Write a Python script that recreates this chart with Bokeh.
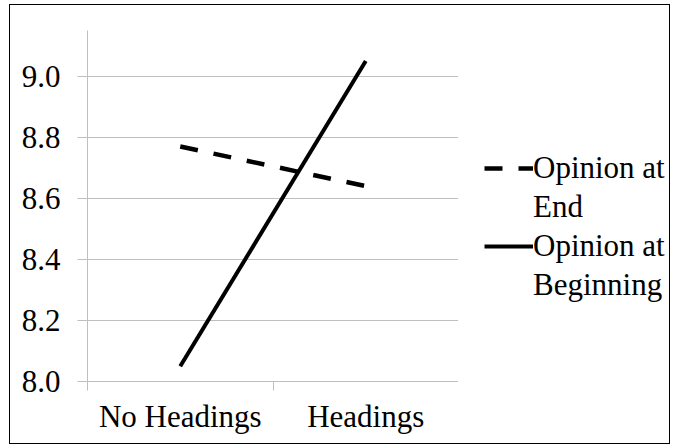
from bokeh.plotting import figure
from bokeh.layouts import row
from bokeh.models import Legend, LegendItem, FixedTicker, NumeralTickFormatter, Range1d
from bokeh.embed import file_html
from bokeh.resources import INLINE

categories = ["No Headings", "Headings"]
opinion_end = [8.77, 8.64]
opinion_beginning = [8.05, 9.05]
y_ticks = [8.0, 8.2, 8.4, 8.6, 8.8, 9.0]
legend_lines = [("Opinion at", "End"), ("Opinion at", "Beginning")]

FONT = "Liberation Serif"
FS = "31px"
GRID = "#bfbfbf"
END_STYLE = dict(line_color="black", line_width=4.5, line_dash="18 16")
BEG_STYLE = dict(line_color="black", line_width=4)

x = [i + 0.5 for i in range(len(categories))]

p = figure(width=448, height=438, output_backend="svg", toolbar_location=None,
           x_range=Range1d(0, len(categories)), y_range=Range1d(8.0, 9.15),
           min_border_left=77, min_border_right=0, min_border_top=25, min_border_bottom=62)
p.outline_line_color = None
p.background_fill_color = "white"
p.border_fill_color = "white"

p.xgrid.grid_line_color = None
p.ygrid.grid_line_color = GRID
p.ygrid.grid_line_width = 1

p.yaxis.ticker = FixedTicker(ticks=y_ticks)
p.yaxis.formatter = NumeralTickFormatter(format="0.0")
p.yaxis.axis_line_color = GRID
p.yaxis.major_tick_line_color = GRID
p.yaxis.major_tick_out = 10
p.yaxis.major_tick_in = 0
p.yaxis.minor_tick_line_color = None
p.yaxis.major_label_standoff = 17
p.yaxis.major_label_text_font = FONT
p.yaxis.major_label_text_font_size = FS
p.yaxis.major_label_text_color = "black"

p.xaxis.ticker = FixedTicker(ticks=x, minor_ticks=[float(i) for i in range(len(categories) + 1)])
p.xaxis.major_label_overrides = {xi: c for xi, c in zip(x, categories)}
p.xaxis.axis_line_color = GRID
p.xaxis.major_tick_line_color = None
p.xaxis.major_tick_out = 0
p.xaxis.major_tick_in = 0
p.xaxis.minor_tick_line_color = GRID
p.xaxis.minor_tick_out = 9
p.xaxis.minor_tick_in = 0
p.xaxis.major_label_standoff = 8
p.xaxis.major_label_text_font = FONT
p.xaxis.major_label_text_font_size = FS
p.xaxis.major_label_text_color = "black"

p.line(x, opinion_end, **END_STYLE)
p.line(x, opinion_beginning, **BEG_STYLE)

# legend panel: same series, kept out of view, only used for the legend glyphs
q = figure(width=211, height=438, output_backend="svg", toolbar_location=None,
           x_axis_type=None, y_axis_type=None,
           x_range=Range1d(100, 101), y_range=Range1d(100, 101),
           min_border_left=0, min_border_right=0, min_border_top=0, min_border_bottom=0)
q.outline_line_color = None
q.xgrid.grid_line_color = None
q.ygrid.grid_line_color = None
q.background_fill_color = "white"
q.border_fill_color = "white"
g_end = q.line(x, opinion_end, **END_STYLE)
g_beg = q.line(x, opinion_beginning, **BEG_STYLE)
g_none = q.line(x, opinion_end, line_alpha=0)

items = [
    LegendItem(label=legend_lines[0][0], renderers=[g_end]),
    LegendItem(label=legend_lines[0][1], renderers=[g_none]),
    LegendItem(label=legend_lines[1][0], renderers=[g_beg]),
    LegendItem(label=legend_lines[1][1], renderers=[g_none]),
]
legend = Legend(items=items, location=(26, 78))
legend.border_line_color = None
legend.background_fill_alpha = 0
legend.padding = 0
legend.margin = 0
legend.spacing = 3
legend.glyph_width = 49
legend.glyph_height = 20
legend.label_standoff = 0
legend.label_text_font = FONT
legend.label_text_font_size = FS
legend.label_text_color = "black"
q.add_layout(legend, "center")

layout = row(p, q, styles={"margin-left": "9px", "margin-top": "4px", "border": "1.5px solid black"})

open("out.html", "w").write(file_html(layout, INLINE))
